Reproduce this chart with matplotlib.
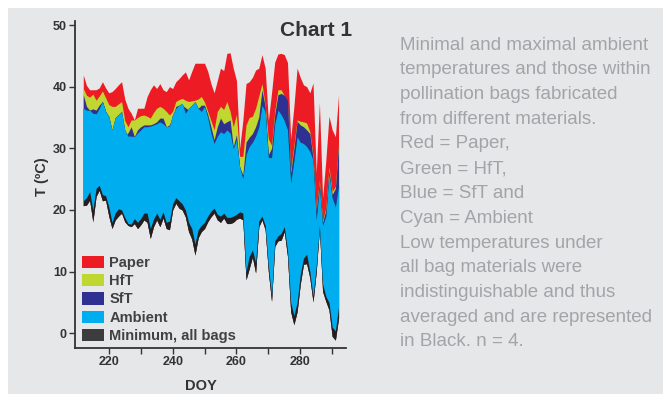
import matplotlib
matplotlib.use("Agg")
import matplotlib.pyplot as plt
from matplotlib.patches import Patch, Rectangle
from matplotlib import font_manager as fm

# ---------------- data ----------------
doy = list(range(212, 293))

paper = [41.9, 40.2, 39.5, 39.5, 39.5, 39.8, 40.8, 39.8, 39.0, 39.2,
         39.7, 40.3, 40.8, 38.0, 36.5, 35.7, 34.6, 36.5, 36.5, 36.5,
         38.4, 39.5, 40.3, 39.7, 40.5, 39.5, 39.2, 40.0, 39.7, 40.8,
         41.3, 41.9, 42.4, 41.1, 42.5, 43.8, 43.8, 43.8, 43.8, 42.5,
         40.5, 39.0, 41.0, 43.0, 42.6, 45.4, 45.5, 43.0, 41.0, 30.0,
         34.5, 40.5, 40.8, 41.5, 42.7, 43.0, 45.2, 43.0, 34.5, 39.0,
         44.0, 45.3, 45.4, 45.2, 43.9, 31.5, 36.8, 43.0, 41.5, 40.3,
         40.0, 39.0, 40.6, 26.0, 37.4, 22.0, 28.0, 35.2, 33.0, 31.9,
         38.7]

hft = [39.7, 38.6, 38.3, 38.8, 37.8, 38.5, 39.3, 38.2, 37.1, 36.8,
       36.8, 37.2, 37.6, 34.5, 33.5, 34.6, 34.6, 35.0, 35.3, 35.4,
       35.2, 34.9, 35.8, 36.5, 36.8, 36.5, 36.0, 35.4, 36.0, 37.6,
       37.9, 38.1, 37.8, 37.6, 37.7, 37.8, 38.0, 38.4, 37.5, 36.0,
       34.5, 33.0, 36.0, 36.8, 36.3, 37.6, 36.0, 33.5, 35.5, 28.7,
       28.7, 33.8, 35.0, 35.2, 36.5, 38.5, 40.5, 37.0, 31.5, 30.5,
       36.0, 39.5, 39.5, 38.5, 37.0, 26.5, 30.5, 34.6, 34.4, 34.3,
       34.1, 32.7, 28.8, 20.2, 24.8, 18.3, 20.3, 27.0, 23.0, 23.8,
       30.8]

sft = [38.7, 36.8, 36.2, 36.4, 36.2, 37.0, 37.6, 36.0, 35.0, 32.7,
       34.3, 34.6, 34.9, 32.0, 32.5, 33.5, 31.9, 33.0, 33.5, 33.8,
       33.8, 33.8, 34.0, 34.3, 34.9, 34.9, 33.5, 33.8, 35.0, 36.8,
       37.0, 37.0, 36.6, 36.2, 36.5, 36.8, 36.5, 37.0, 37.0, 35.5,
       33.5, 31.4, 33.5, 34.9, 34.0, 34.3, 34.6, 30.3, 32.2, 27.0,
       25.7, 31.0, 31.8, 32.4, 33.5, 35.1, 39.5, 36.8, 29.0, 30.0,
       35.5, 38.7, 38.9, 38.6, 37.8, 26.0, 30.0, 34.4, 33.8, 33.5,
       33.0, 32.4, 28.5, 20.0, 24.5, 18.0, 20.0, 26.5, 22.5, 23.5,
       30.5]

amb_max = [36.5, 36.2, 36.2, 35.7, 35.6, 36.5, 37.6, 36.0, 35.2, 33.0,
           35.0, 35.5, 36.0, 33.0, 32.0, 32.0, 31.9, 32.5, 33.0, 33.5,
           33.5, 33.6, 33.8, 34.0, 34.3, 34.0, 33.5, 33.6, 35.5, 36.5,
           37.0, 37.3, 35.7, 36.5, 37.0, 37.6, 36.5, 36.0, 36.8, 35.0,
           32.5, 30.8, 32.0, 32.7, 32.4, 33.0, 32.5, 30.0, 31.4, 27.0,
           25.1, 29.0, 30.3, 31.0, 32.0, 33.5, 37.0, 36.0, 28.5, 28.5,
           34.0, 36.2, 35.5, 34.5, 33.0, 24.4, 28.0, 31.9, 31.0, 30.8,
           30.3, 29.5, 28.1, 18.4, 23.8, 17.5, 19.0, 25.9, 22.0, 20.5,
           24.0]

amb_min = [21.5, 22.0, 23.0, 20.0, 23.5, 24.0, 22.5, 22.3, 20.5, 18.0,
           19.5, 20.2, 20.0, 18.8, 17.8, 17.7, 18.6, 18.0, 18.6, 19.5,
           19.5, 17.0, 18.5, 19.5, 18.5, 19.7, 18.0, 18.2, 21.0, 22.0,
           21.5, 21.0, 20.0, 18.0, 17.0, 14.5, 16.8, 17.5, 18.0, 19.0,
           19.8, 20.3, 19.3, 19.0, 19.5, 18.8, 18.8, 19.0, 19.3, 19.7,
           19.5, 10.0, 12.5, 13.5, 11.5, 18.2, 19.0, 17.5, 11.0, 6.2,
           15.0, 15.8, 16.2, 17.3, 13.5, 5.0, 2.9, 5.0, 9.5, 12.2,
           12.8, 10.0, 6.0, 11.0, 17.5, 8.0, 6.0, 5.0, 1.0, 0.4,
           4.3]

bag_min = [20.7, 20.8, 21.6, 18.1, 22.2, 23.2, 21.5, 21.6, 19.0, 17.0,
           18.4, 19.0, 19.5, 18.1, 17.5, 17.3, 17.8, 17.0, 17.6, 18.4,
           18.0, 15.4, 17.3, 18.4, 17.3, 18.7, 17.0, 16.8, 20.0, 21.1,
           20.3, 20.0, 18.9, 16.5, 15.3, 12.7, 15.5, 16.5, 17.0, 18.1,
           18.9, 19.5, 18.4, 18.0, 18.7, 17.8, 17.8, 18.0, 18.5, 18.7,
           18.4, 8.7, 10.5, 12.4, 9.8, 17.3, 18.4, 16.8, 10.0, 5.2,
           14.1, 15.0, 15.1, 16.5, 12.5, 3.5, 1.4, 3.5, 8.0, 11.2,
           11.3, 9.0, 5.1, 10.0, 17.0, 6.8, 5.2, 3.8, -0.5, -1.1,
           2.5]

legend_labels = ["Paper", "HfT", "SfT", "Ambient", "Minimum, all bags"]
x_major = [220, 240, 260, 280]
x_minor = [230, 250, 270, 290]
y_ticks = [0, 10, 20, 30, 40, 50]

caption = ["Minimal and maximal ambient",
           "temperatures and those within",
           "pollination bags fabricated",
           "from different materials.",
           "Red = Paper,",
           "Green = HfT,",
           "Blue = SfT and",
           "Cyan = Ambient",
           "Low temperatures under",
           "all bag materials were",
           "indistinguishable and thus",
           "averaged and are represented",
           "in Black. n = 4."]

# ---------------- style ----------------
RED = "#ED1C24"
GREEN = "#BFD730"
BLUE = "#2E3192"
CYAN = "#00AEEF"
BLACK = "#231F20"
LEGBLACK = "#3C3C3C"
PANEL = "#E6E7E8"
DARK = "#333333"
CAPTION = "#A2A4A7"


def has_font(name):
    try:
        fm.findfont(fm.FontProperties(family=name), fallback_to_default=False)
        return True
    except Exception:
        return False

narrow = has_font("Liberation Sans Narrow")
base_family = ["Liberation Sans", "DejaVu Sans"]
narrow_family = (["Liberation Sans Narrow"] if narrow else []) + base_family
plt.rcParams["font.family"] = base_family

W, H = 663, 396
fig = plt.figure(figsize=(W / 100, H / 100), dpi=100)
fig.patch.set_facecolor("white")
fig.add_artist(Rectangle((8 / W, 2 / H), 1 - 8 / W, (394 - 8) / H,
                         transform=fig.transFigure, facecolor=PANEL,
                         edgecolor="none", zorder=0))

ax = fig.add_axes([75.3 / W, 48.3 / H, 270.6 / W, 327 / H])
ax.set_facecolor("none")

ax.fill_between(doy, bag_min, paper, color=RED, lw=0)
ax.fill_between(doy, bag_min, hft, color=GREEN, lw=0)
ax.fill_between(doy, bag_min, sft, color=BLUE, lw=0)
ax.fill_between(doy, bag_min, amb_max, color=BLACK, lw=0)
ax.fill_between(doy, amb_min, amb_max, color=CYAN, lw=0)

ax.set_xlim(209.5, 294.3)
ax.set_ylim(-2.34, 50.7)
for s in ("top", "right"):
    ax.spines[s].set_visible(False)
for s in ("left", "bottom"):
    ax.spines[s].set_color(DARK)
    ax.spines[s].set_linewidth(1.3)

ax.set_xticks(x_major)
ax.set_xticks(x_minor, minor=True)
ax.set_yticks(y_ticks)
ax.tick_params(axis="both", which="both", direction="out", length=4,
               width=1, color=DARK, labelcolor=DARK, labelsize=9, pad=2)
for lab in ax.get_xticklabels() + ax.get_yticklabels():
    lab.set_fontweight("bold")
    lab.set_family(narrow_family)
    lab.set_fontsize(10.5 if narrow else 9)

ax.set_xlabel("DOY", fontsize=10.5, fontweight="bold", color=DARK)
ax.set_ylabel("T (ºC)", fontsize=10.5, fontweight="bold", color=DARK)
ax.xaxis.set_label_coords((201 - 75.3) / 270.6, (347.7 - 386) / 327)
ax.yaxis.set_label_coords((42 - 75.3) / 270.6, (347.7 - 177) / 327)
ax.xaxis.label.set_va("center")
ax.yaxis.label.set_va("center")

handles = [Patch(facecolor=c, edgecolor="none") for c in (RED, GREEN, BLUE, CYAN, LEGBLACK)]
leg = ax.legend(handles, legend_labels, loc="lower left",
                bbox_to_anchor=((82 - 75.3) / 270.6, (347.7 - 343) / 327),
                frameon=False, borderpad=0, borderaxespad=0,
                handlelength=1.5, handleheight=0.92, handletextpad=0.38,
                labelspacing=0.28,
                prop={"weight": "bold", "size": 10.5, "family": narrow_family if narrow else base_family})
for t in leg.get_texts():
    t.set_color("#414042")
    if narrow:
        t.set_fontsize(12)

fig.text(316 / W, 1 - 31 / H, "Chart 1", ha="center", va="center",
         fontsize=15, fontweight="bold", color=DARK)

cap_size = 16.5 if narrow else 13.5
for i, line in enumerate(caption):
    fig.text(399.5 / W, 1 - (45 + i * 24.75) / H, line, ha="left", va="center",
             fontsize=cap_size, color=CAPTION, family=narrow_family)

fig.savefig("out.png", dpi=100, facecolor="white")
